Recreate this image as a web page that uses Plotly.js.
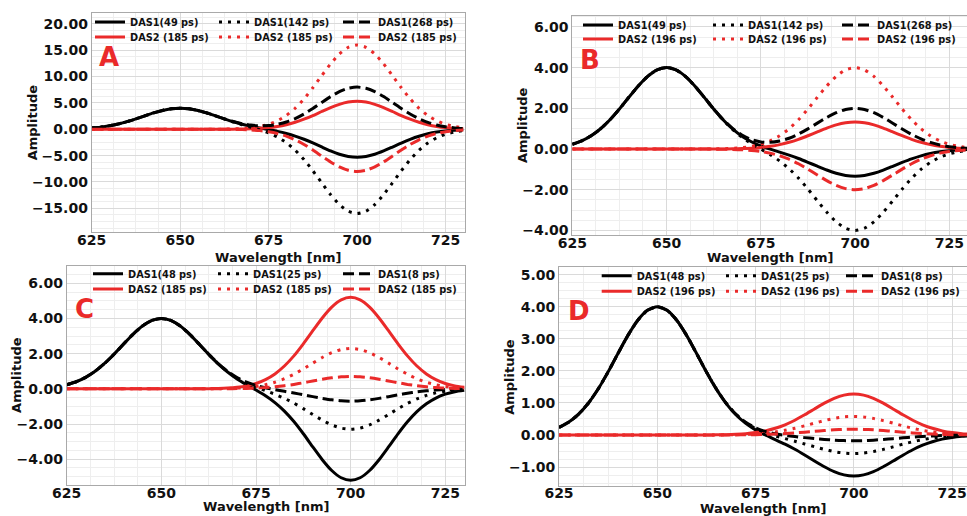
<!DOCTYPE html>
<html>
<head>
<meta charset="utf-8">
<script src="https://cdn.plot.ly/plotly-3.0.1.min.js"></script>
<style>html,body{margin:0;padding:0;background:#fff;}#chart{width:967px;height:516px;}</style>
</head>
<body>
<div id="chart"></div>
<script>
// ---------------- DATA ----------------
const wavelength = [625,627.5,630,632.5,635,637.5,640,642.5,645,647.5,650,652.5,655,657.5,660,662.5,665,667.5,670,672.5,675,677.5,680,682.5,685,687.5,690,692.5,695,697.5,700,702.5,705,707.5,710,712.5,715,717.5,720,722.5,725,727.5,730];

// Panel A
const A_labels = ['DAS1(49 ps)','DAS2 (185 ps)','DAS1(142 ps)','DAS2 (185 ps)','DAS1(268 ps)','DAS2 (185 ps)'];
const A_das1_solid = [0.235,0.403,0.652,0.998,1.442,1.969,2.542,3.099,3.571,3.888,4.0,3.888,3.570,3.097,2.538,1.960,1.421,0.954,0.562,0.231,-0.076,-0.404,-0.796,-1.289,-1.894,-2.602,-3.365,-4.105,-4.732,-5.152,-5.3,-5.152,-4.732,-4.106,-3.368,-2.609,-1.910,-1.322,-0.864,-0.534,-0.311,-0.172,-0.090];
const A_das2_solid = [0,0,0,0,0,0,0,0,0,0,0,0,0.001,0.002,0.004,0.009,0.021,0.044,0.090,0.172,0.311,0.534,0.864,1.322,1.910,2.609,3.368,4.106,4.732,5.152,5.3,5.152,4.732,4.106,3.368,2.609,1.910,1.322,0.864,0.534,0.311,0.172,0.090];
const A_das1_dot = [0.235,0.403,0.652,0.998,1.442,1.969,2.542,3.099,3.571,3.888,4.0,3.888,3.569,3.094,2.531,1.942,1.380,0.865,0.382,-0.115,-0.704,-1.481,-2.540,-3.957,-5.750,-7.870,-10.163,-12.396,-14.285,-15.554,-16,-15.554,-14.285,-12.397,-10.166,-7.877,-5.766,-3.990,-2.608,-1.611,-0.939,-0.518,-0.270];
const A_das2_dot = [0,0,0,0,0,0,0,0,0,0,0,0,0.002,0.005,0.011,0.027,0.062,0.133,0.270,0.518,0.939,1.611,2.608,3.990,5.766,7.877,10.166,12.397,14.285,15.554,16,15.554,14.285,12.397,10.166,7.877,5.766,3.990,2.608,1.611,0.939,0.518,0.270];
const A_das1_dash = [0.235,0.403,0.652,0.998,1.442,1.969,2.542,3.099,3.571,3.888,4.0,3.888,3.572,3.101,2.548,1.983,1.473,1.064,0.787,0.662,0.705,0.936,1.372,2.028,2.899,3.945,5.086,6.199,7.142,7.777,8,7.777,7.142,6.198,5.083,3.938,2.883,1.995,1.304,0.806,0.470,0.259,0.135];
const A_das2_dash = [0,0,0,0,0,0,0,0,0,0,0,0,-0.001,-0.002,-0.006,-0.014,-0.031,-0.066,-0.135,-0.259,-0.470,-0.806,-1.304,-1.995,-2.883,-3.938,-5.083,-6.198,-7.142,-7.777,-8,-7.777,-7.142,-6.198,-5.083,-3.938,-2.883,-1.995,-1.304,-0.806,-0.470,-0.259,-0.135];
const A_yticks = [-15,-10,-5,0,5,10,15,20];

// Panel B
const B_labels = ['DAS1(49 ps)','DAS2 (196 ps)','DAS1(142 ps)','DAS2 (196 ps)','DAS1(268 ps)','DAS2 (196 ps)'];
const B_das1_solid = [0.235,0.403,0.652,0.998,1.442,1.969,2.542,3.099,3.571,3.888,4.0,3.888,3.571,3.099,2.541,1.967,1.437,0.987,0.630,0.360,0.157,-0.004,-0.149,-0.299,-0.463,-0.648,-0.842,-1.029,-1.187,-1.293,-1.33,-1.293,-1.187,-1.030,-0.845,-0.655,-0.479,-0.332,-0.217,-0.134,-0.078,-0.043,-0.022];
const B_das2_solid = [0,0,0,0,0,0,0,0,0,0,0,0,0,0,0.001,0.002,0.005,0.011,0.022,0.043,0.078,0.134,0.217,0.332,0.479,0.655,0.845,1.030,1.187,1.293,1.33,1.293,1.187,1.030,0.845,0.655,0.479,0.332,0.217,0.134,0.078,0.043,0.022];
const B_das1_dot = [0.235,0.403,0.652,0.998,1.442,1.969,2.542,3.099,3.571,3.888,4.0,3.888,3.571,3.098,2.539,1.962,1.426,0.965,0.584,0.273,0,-0.273,-0.584,-0.965,-1.426,-1.962,-2.539,-3.098,-3.571,-3.888,-4,-3.888,-3.571,-3.099,-2.542,-1.969,-1.442,-0.998,-0.652,-0.403,-0.235,-0.130,-0.068];
const B_das2_dot = [0,0,0,0,0,0,0,0,0,0,0,0,0,0.001,0.003,0.007,0.016,0.033,0.068,0.130,0.235,0.403,0.652,0.998,1.442,1.969,2.542,3.099,3.571,3.888,4,3.888,3.571,3.099,2.542,1.969,1.442,0.998,0.652,0.403,0.235,0.130,0.068];
const B_das1_dash = [0.235,0.403,0.652,0.998,1.442,1.969,2.542,3.099,3.571,3.888,4.0,3.888,3.571,3.100,2.543,1.972,1.450,1.015,0.686,0.468,0.352,0.331,0.394,0.532,0.737,0.992,1.274,1.551,1.786,1.944,2,1.944,1.786,1.550,1.271,0.985,0.721,0.499,0.326,0.201,0.117,0.065,0.034];
const B_das2_dash = [0,0,0,0,0,0,0,0,0,0,0,0,0,-0.001,-0.001,-0.003,-0.008,-0.017,-0.034,-0.065,-0.117,-0.201,-0.326,-0.499,-0.721,-0.985,-1.271,-1.550,-1.786,-1.944,-2,-1.944,-1.786,-1.550,-1.271,-0.985,-0.721,-0.499,-0.326,-0.201,-0.117,-0.065,-0.034];
const B_yticks = [-4,-2,0,2,4,6];

// Panel C
const C_labels = ['DAS1(48 ps)','DAS2 (185 ps)','DAS1(25 ps)','DAS2 (185 ps)','DAS1(8 ps)','DAS2 (185 ps)'];
const C_das1_solid = [0.235,0.403,0.652,0.998,1.442,1.969,2.542,3.099,3.571,3.888,4.0,3.888,3.570,3.097,2.538,1.960,1.422,0.955,0.564,0.235,-0.070,-0.394,-0.780,-1.264,-1.858,-2.553,-3.301,-4.028,-4.643,-5.055,-5.2,-5.055,-4.643,-4.029,-3.304,-2.560,-1.874,-1.297,-0.848,-0.524,-0.305,-0.168,-0.088];
const C_das2_solid = [0,0,0,0,0,0,0,0,0,0,0,0,0.001,0.002,0.004,0.009,0.020,0.043,0.088,0.168,0.305,0.524,0.848,1.297,1.874,2.560,3.304,4.029,4.643,5.055,5.2,5.055,4.643,4.029,3.304,2.560,1.874,1.297,0.848,0.524,0.305,0.168,0.088];
const C_das1_dot = [0.235,0.403,0.652,0.998,1.442,1.969,2.542,3.099,3.571,3.888,4.0,3.888,3.571,3.098,2.540,1.965,1.433,0.979,0.613,0.328,0.100,-0.102,-0.307,-0.541,-0.813,-1.125,-1.458,-1.781,-2.053,-2.236,-2.3,-2.236,-2.053,-1.782,-1.461,-1.132,-0.829,-0.574,-0.375,-0.232,-0.135,-0.075,-0.039];
const C_das2_dot = [0,0,0,0,0,0,0,0,0,0,0,0,0,0.001,0.002,0.004,0.009,0.019,0.039,0.075,0.135,0.232,0.375,0.574,0.829,1.132,1.461,1.782,2.053,2.236,2.3,2.236,2.053,1.782,1.461,1.132,0.829,0.574,0.375,0.232,0.135,0.075,0.039];
const C_das1_dash = [0.235,0.403,0.652,0.998,1.442,1.969,2.542,3.099,3.571,3.888,4.0,3.888,3.571,3.099,2.542,1.968,1.439,0.992,0.640,0.380,0.194,0.060,-0.046,-0.142,-0.236,-0.338,-0.442,-0.541,-0.625,-0.680,-0.7,-0.680,-0.625,-0.542,-0.445,-0.345,-0.252,-0.175,-0.114,-0.070,-0.041,-0.023,-0.012];
const C_das2_dash = [0,0,0,0,0,0,0,0,0,0,0,0,0,0,0,0.001,0.003,0.006,0.012,0.023,0.041,0.070,0.114,0.175,0.252,0.345,0.445,0.542,0.625,0.680,0.7,0.680,0.625,0.542,0.445,0.345,0.252,0.175,0.114,0.070,0.041,0.023,0.012];
const C_yticks = [-4,-2,0,2,4,6];

// Panel D
const D_labels = ['DAS1(48 ps)','DAS2 (196 ps)','DAS1(25 ps)','DAS2 (196 ps)','DAS1(8 ps)','DAS2 (196 ps)'];
const D_das1_solid = [0.235,0.403,0.652,0.998,1.442,1.969,2.542,3.099,3.571,3.888,4.0,3.888,3.571,3.099,2.541,1.967,1.437,0.987,0.630,0.362,0.160,0.001,-0.141,-0.286,-0.445,-0.623,-0.810,-0.991,-1.143,-1.244,-1.28,-1.244,-1.143,-0.992,-0.813,-0.630,-0.461,-0.319,-0.209,-0.129,-0.075,-0.041,-0.022];
const D_das2_solid = [0,0,0,0,0,0,0,0,0,0,0,0,0,0,0.001,0.002,0.005,0.011,0.022,0.041,0.075,0.129,0.209,0.319,0.461,0.630,0.813,0.992,1.143,1.244,1.28,1.244,1.143,0.992,0.813,0.630,0.461,0.319,0.209,0.129,0.075,0.041,0.022];
const D_das1_dot = [0.235,0.403,0.652,0.998,1.442,1.969,2.542,3.099,3.571,3.888,4.0,3.888,3.571,3.099,2.542,1.968,1.440,0.993,0.642,0.384,0.201,0.072,-0.027,-0.112,-0.193,-0.279,-0.366,-0.448,-0.518,-0.564,-0.58,-0.564,-0.518,-0.449,-0.369,-0.286,-0.209,-0.145,-0.095,-0.058,-0.034,-0.019,-0.010];
const D_das2_dot = [0,0,0,0,0,0,0,0,0,0,0,0,0,0,0,0.001,0.002,0.005,0.010,0.019,0.034,0.058,0.095,0.145,0.209,0.286,0.369,0.449,0.518,0.564,0.58,0.564,0.518,0.449,0.369,0.286,0.209,0.145,0.095,0.058,0.034,0.019,0.010];
const D_das1_dash = [0.235,0.403,0.652,0.998,1.442,1.969,2.542,3.099,3.571,3.888,4.0,3.888,3.571,3.099,2.542,1.969,1.441,0.997,0.649,0.397,0.224,0.112,0.039,-0.012,-0.049,-0.082,-0.111,-0.138,-0.161,-0.175,-0.18,-0.175,-0.161,-0.139,-0.114,-0.089,-0.065,-0.045,-0.029,-0.018,-0.011,-0.006,-0.003];
const D_das2_dash = [0,0,0,0,0,0,0,0,0,0,0,0,0,0,0,0,0.001,0.001,0.003,0.006,0.011,0.018,0.029,0.045,0.065,0.089,0.114,0.139,0.161,0.175,0.18,0.175,0.161,0.139,0.114,0.089,0.065,0.045,0.029,0.018,0.011,0.006,0.003];
const D_yticks = [-1,0,1,2,3,4,5];

const xticks = [625,650,675,700,725];
const panelLetters = ['A','B','C','D'];
const xTitle = 'Wavelength [nm]';
const yTitle = 'Amplitude';

// ---------------- STYLE / LAYOUT ----------------
const W = 967, H = 516;
const FONT = 'DejaVu Sans, Verdana, sans-serif';
const BLACK = '#000000', RED = '#ea2a2a';
const styles = [
  {color: BLACK, dash: 'solid'},
  {color: RED,   dash: 'solid'},
  {color: BLACK, dash: '3px,6px'},
  {color: RED,   dash: '3px,6px'},
  {color: BLACK, dash: '11px,5px'},
  {color: RED,   dash: '11px,5px'}
];

// pixel geometry of each panel
const panels = [
  {series:[A_das1_solid,A_das2_solid,A_das1_dot,A_das2_dot,A_das1_dash,A_das2_dash], labels:A_labels, yticks:A_yticks,
   box:[91.7,13.3,465,232.3], xr:[625,730.5], yr:[-19.55,22.0], yminor:1.25, xlso:-5,
   legCols:[130,254,378], legRows:[22,37], letter:[109,57], ytitle:[32.5,122.8], xtitle:[278.4,257]},
  {series:[B_das1_solid,B_das2_solid,B_das1_dot,B_das2_dot,B_das1_dash,B_das2_dash], labels:B_labels, yticks:B_yticks,
   box:[572.3,15.7,967,235], xr:[625,729.7], yr:[-4.22,6.55], yminor:0.5, xlso:-5,
   legCols:[618,748,877], legRows:[25,39], letter:[590,60.5], ytitle:[522.7,125.3], xtitle:[769.7,257.5]},
  {series:[C_das1_solid,C_das2_solid,C_das1_dot,C_das2_dot,C_das1_dash,C_das2_dash], labels:C_labels, yticks:C_yticks,
   box:[66.7,265.7,465,484.7], xr:[625,730.2], yr:[-5.45,7.0], yminor:0.5, xlso:-5,
   legCols:[128,253,378], legRows:[273.7,289], letter:[84,308.5], ytitle:[16.7,375.2], xtitle:[265.9,506.3]},
  {series:[D_das1_solid,D_das2_solid,D_das1_dot,D_das2_dot,D_das1_dash,D_das2_dash], labels:D_labels, yticks:D_yticks,
   box:[559,267.3,967,486.3], xr:[625,728.8], yr:[-1.6,5.23], yminor:0.25, xlso:-6,
   legCols:[636.7,761,881], legRows:[275.7,291.3], letter:[578.5,310.5], ytitle:[510,376.8], xtitle:[763,508]}
];

const traces = [];
const layout = {
  width: W, height: H,
  margin: {l:0, r:0, t:0, b:0},
  paper_bgcolor: '#ffffff', plot_bgcolor: '#ffffff',
  font: {family: FONT, color: '#000', weight: 'bold'},
  annotations: [],
  showlegend: true
};

const TEXTGAP = 40, ROWOFF = 14.5;
let legN = 0;
panels.forEach((p, i) => {
  const n = i + 1;
  const xa = n === 1 ? 'x' : 'x' + n, ya = n === 1 ? 'y' : 'y' + n;
  const xk = n === 1 ? 'xaxis' : 'xaxis' + n, yk = n === 1 ? 'yaxis' : 'yaxis' + n;
  p.series.forEach((ys, j) => {
    legN += 1;
    const legId = legN === 1 ? 'legend' : 'legend' + legN;
    const col = Math.floor(j / 2), row = j % 2;
    traces.push({
      type: 'scatter', mode: 'lines', x: wavelength, y: ys,
      xaxis: xa, yaxis: ya, name: p.labels[j], legend: legId,
      line: {color: styles[j].color, dash: styles[j].dash, width: 3, shape: 'spline', smoothing: 0.6},
      hoverinfo: 'x+y+name'
    });
    layout[legId] = {
      orientation: 'h', xref: 'paper', yref: 'paper', xanchor: 'left', yanchor: 'top',
      x: (p.legCols[col] - TEXTGAP) / W, y: 1 - (p.legRows[row] - ROWOFF) / H,
      bgcolor: 'rgba(0,0,0,0)', borderwidth: 0,
      font: {family: FONT, size: 9.8, color: '#111', weight: 'bold'},
      itemclick: false, itemdoubleclick: false
    };
  });
  const [l, t, r, b] = p.box;
  const axCommon = {
    showgrid: true, gridcolor: '#dadada', gridwidth: 1,
    zeroline: false, showline: true, linecolor: '#a9a9a9', linewidth: 1, mirror: true, ticks: '',
    tickfont: {family: FONT, size: 14, color: '#111', weight: 'bold'}
  };
  layout[xk] = Object.assign({}, axCommon, {
    domain: [l / W, r / W], anchor: ya, range: p.xr,
    tickvals: xticks, ticktext: xticks.map(String), ticklabelstandoff: p.xlso,
    minor: {dtick: 6.25, tick0: 625, showgrid: true, gridcolor: '#eeeeee', gridwidth: 1}
  });
  layout[yk] = Object.assign({}, axCommon, {
    domain: [1 - b / H, 1 - t / H], anchor: xa, range: p.yr,
    tickvals: p.yticks, tickformat: '.2f',
    minor: {dtick: p.yminor, showgrid: true, gridcolor: '#eeeeee', gridwidth: 1}
  });
  layout.annotations.push({
    text: panelLetters[i], xref: 'paper', yref: 'paper',
    x: p.letter[0] / W, y: 1 - p.letter[1] / H, xanchor: 'center', yanchor: 'middle',
    showarrow: false, font: {family: FONT, size: 26, color: RED, weight: 'bold'}
  });
  layout.annotations.push({
    text: yTitle, xref: 'paper', yref: 'paper', textangle: -90,
    x: p.ytitle[0] / W, y: 1 - p.ytitle[1] / H, xanchor: 'center', yanchor: 'middle',
    showarrow: false, font: {family: FONT, size: 13, color: '#111', weight: 'bold'}
  });
  layout.annotations.push({
    text: xTitle, xref: 'paper', yref: 'paper',
    x: p.xtitle[0] / W, y: 1 - p.xtitle[1] / H, xanchor: 'center', yanchor: 'middle',
    showarrow: false, font: {family: FONT, size: 13, color: '#111', weight: 'bold'}
  });
});

Plotly.newPlot('chart', traces, layout, {displayModeBar: false});
</script>
</body>
</html>
